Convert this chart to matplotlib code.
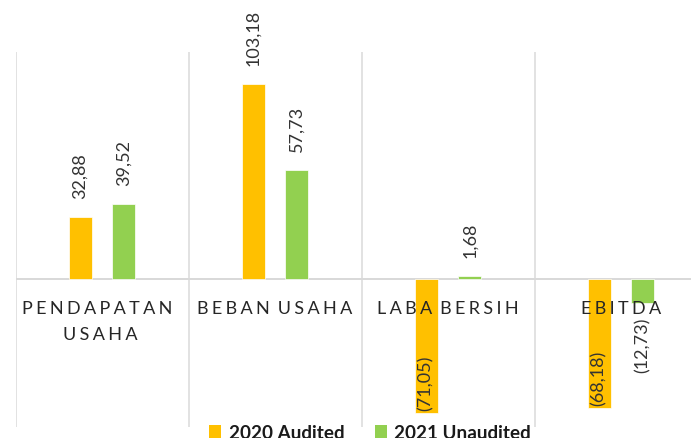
import matplotlib
matplotlib.use("Agg")
import matplotlib.pyplot as plt
from matplotlib.patches import Patch

plt.rcParams['font.family'] = ['Lato', 'DejaVu Sans']

categories = [["PENDAPATAN", "USAHA"], ["BEBAN USAHA"], ["LABA BERSIH"], ["EBITDA"]]
series_names = ["2020 Audited", "2021 Unaudited"]
values_2020 = [32.88, 103.18, -71.05, -68.18]
values_2021 = [39.52, 57.73, 1.68, -12.73]
colors = ["#FFC000", "#92D050"]

PX = 72.0 / 100.0  # points per pixel


def fmt(v):
    s = f"{abs(v):.2f}".replace(".", ",")
    return f"({s})" if v < 0 else s


def spaced(text):
    words = text.split(" ")
    sep = "\u2009\u200a"
    return (sep + " ").join(sep.join(w) for w in words)


fig = plt.figure(figsize=(6.91, 4.39), dpi=100)
ax = fig.add_axes([15.5 / 691, 11 / 439, 692 / 691, 375 / 439])
ax.set_xlim(-0.5, 3.5)
ax.set_ylim(-78.3, 120.1)
ax.axis("off")

grid_c = "#d9d9d9"
for b in [-0.5, 0.5, 1.5, 2.5, 3.5]:
    ax.axvline(b, color=grid_c, lw=1.5 * PX, zorder=1)
ax.axhline(0, color=grid_c, lw=2.0 * PX, zorder=1)

x = list(range(len(categories)))
off = 0.127
w = 0.133
for vals, c, d in [(values_2020, colors[0], -off), (values_2021, colors[1], off)]:
    xs = [i + d for i in x]
    ax.bar(xs, vals, width=w, color=c, edgecolor="white", linewidth=0.5, zorder=2)
    for xi, v in zip(xs, vals):
        if v >= 0:
            ax.annotate(fmt(v), (xi, v), xytext=(0, 19 * PX), textcoords="offset points",
                        rotation=90, ha="center", va="bottom", fontsize=13, color="#333333",
                        zorder=5, annotation_clip=False)
        elif abs(v) > 40:
            ax.annotate(fmt(v), (xi, v), xytext=(0, 3 * PX), textcoords="offset points",
                        rotation=90, ha="center", va="bottom", fontsize=13, color="#333333",
                        zorder=5, annotation_clip=False)
        else:
            ax.annotate(fmt(v), (xi, v), xytext=(0, -14 * PX), textcoords="offset points",
                        rotation=90, ha="center", va="top", fontsize=13, color="#333333",
                        zorder=5, annotation_clip=False)

line_dx = {(0, 0): -5, (0, 1): -2}
for i, lines in enumerate(categories):
    for j, line in enumerate(lines):
        dx = line_dx.get((i, j), 0)
        ax.annotate(spaced(line), (i, 0), xytext=(dx * PX, -(34 + 26 * j) * PX),
                    textcoords="offset points", ha="center", va="baseline",
                    fontsize=13, color="#262626", zorder=6, annotation_clip=False)

handles = [Patch(facecolor=c, edgecolor="none") for c in colors]
leg = fig.legend(handles, series_names, loc="lower center", bbox_to_anchor=(370 / 691, -0.024),
                 ncol=2, frameon=False, prop={"weight": "bold", "size": 13.6},
                 handlelength=0.65, handleheight=0.65, handletextpad=0.4, columnspacing=1.6,
                 borderaxespad=0)
for t in leg.get_texts():
    t.set_color("#1a1a1a")

fig.savefig("out.png", dpi=100)
